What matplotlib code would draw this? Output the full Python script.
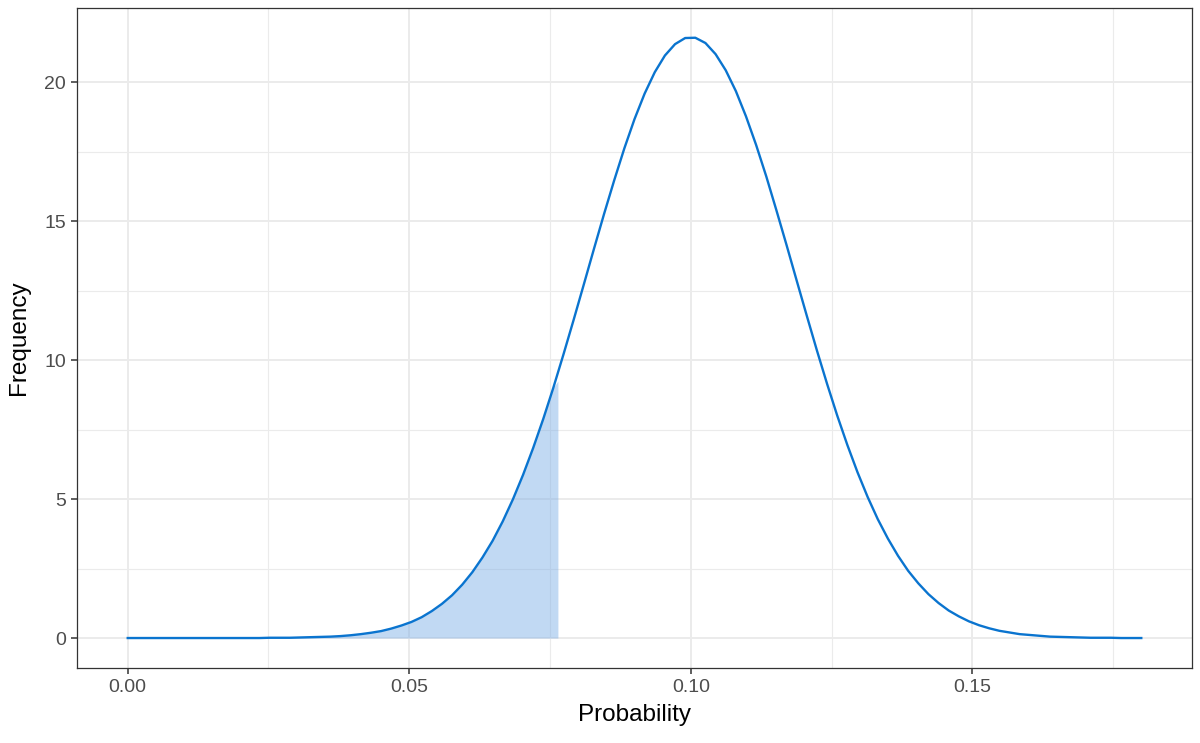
import numpy as np
import matplotlib
matplotlib.use("Agg")
import matplotlib.pyplot as plt

# curve, 101 points from 0 to 0.18
prob = np.linspace(0, 0.18, 101)
freq = [0.00, 0.00, 0.00, 0.00, 0.00, 0.00, 0.00, 0.00, 0.00, 0.00,
        0.00, 0.00, 0.00, 0.00, 0.01, 0.01, 0.01, 0.02, 0.03, 0.04,
        0.05, 0.07, 0.10, 0.14, 0.19, 0.25, 0.34, 0.45, 0.58, 0.75,
        0.97, 1.23, 1.54, 1.92, 2.37, 2.90, 3.50, 4.20, 4.99, 5.87,
        6.84, 7.89, 9.02, 10.22, 11.46, 12.73, 14.01, 15.27, 16.48, 17.63,
        18.68, 19.60, 20.37, 20.97, 21.38, 21.60, 21.61, 21.42, 21.02, 20.44,
        19.69, 18.78, 17.75, 16.62, 15.40, 14.15, 12.87, 11.60, 10.35, 9.15,
        8.01, 6.95, 5.97, 5.08, 4.28, 3.58, 2.96, 2.42, 1.97, 1.58,
        1.26, 0.99, 0.78, 0.60, 0.46, 0.35, 0.26, 0.20, 0.14, 0.11,
        0.08, 0.05, 0.04, 0.03, 0.02, 0.01, 0.01, 0.01, 0.00, 0.00,
        0.00]
freq = np.array(freq)

# shaded tail
shade_end = 0.0764
shade_top = 9.25

xticks = [0.00, 0.05, 0.10, 0.15]
xlabels = ["0.00", "0.05", "0.10", "0.15"]
yticks = [0, 5, 10, 15, 20]

line_col = "#0A74CF"

plt.rcParams['font.family'] = ['Liberation Sans', 'DejaVu Sans']

fig = plt.figure(figsize=(12, 7.43), dpi=100)
ax = fig.add_axes([0.0642, 0.1009, 0.9291, 0.8883])

m = prob <= shade_end
sx = np.append(prob[m], shade_end)
sy = np.append(freq[m], shade_top)
ax.fill_between(sx, 0, sy, color="#7FB0E6", alpha=0.48, linewidth=0, zorder=2)
ax.plot(prob, freq, color=line_col, lw=1.7, zorder=3)

ax.set_xlim(-0.009, 0.189)
ax.set_ylim(-1.08, 22.68)
ax.set_xticks(xticks)
ax.set_xticklabels(xlabels)
ax.set_yticks(yticks)
ax.set_xticks([0.025, 0.075, 0.125, 0.175], minor=True)
ax.set_yticks([2.5, 7.5, 12.5, 17.5], minor=True)
ax.tick_params(which='minor', length=0)
ax.tick_params(which='major', length=4, width=1.1, color="#333333",
               labelsize=14, labelcolor="#4D4D4D", pad=4)

ax.grid(which='major', color="#EBEBEB", lw=1.4, zorder=0)
ax.grid(which='minor', color="#EBEBEB", lw=0.8, zorder=0)
ax.set_axisbelow(True)
for s in ax.spines.values():
    s.set_color("#333333")
    s.set_linewidth(0.9)

ax.set_xlabel("Probability", fontsize=17.5, labelpad=6)
ax.set_ylabel("Frequency", fontsize=17.5, labelpad=10)

fig.savefig("out.png", dpi=100)
